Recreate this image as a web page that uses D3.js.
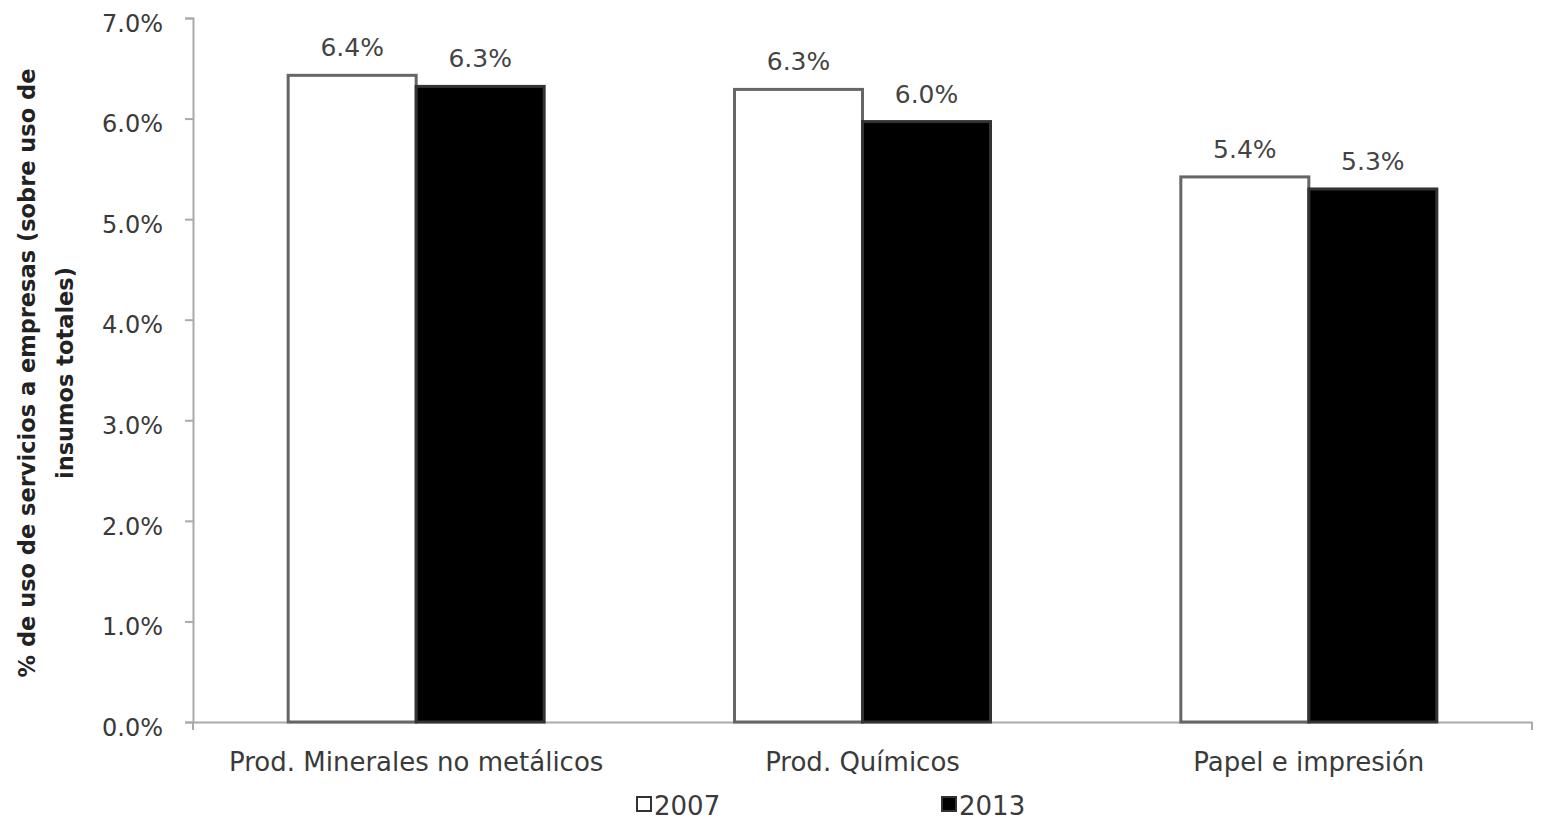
<!DOCTYPE html>
<html><head><meta charset="utf-8">
<script src="https://cdn.jsdelivr.net/npm/d3@7/dist/d3.min.js"></script>
<style>body{margin:0;background:#fff}text{font-family:"DejaVu Sans",sans-serif}</style>
</head><body><svg id="c" width="1541" height="822"></svg>
<script>
const categories = ["Prod. Minerales no metálicos", "Prod. Químicos", "Papel e impresión"];
const seriesNames = ["2007", "2013"];
const values2007 = [6.43, 6.29, 5.42];
const values2013 = [6.32, 5.97, 5.30];
const labels2007 = ["6.4%", "6.3%", "5.4%"];
const labels2013 = ["6.3%", "6.0%", "5.3%"];
const yTicks = [0, 1, 2, 3, 4, 5, 6, 7];

const svg = d3.select("#c");
const x0 = 193, x1 = 1532, yTop = 18, yBot = 722;
const x = d3.scaleBand().domain(categories).range([x0, x1]).paddingInner(0).paddingOuter(0);
const y = d3.scaleLinear().domain([0, 7]).range([yBot, yTop]);
const barW = 128;

// y axis
const ya = svg.append("g").attr("transform", `translate(${x0},0)`)
  .call(d3.axisLeft(y).tickValues(yTicks).tickSize(8).tickPadding(22).tickFormat(d => d.toFixed(1) + "%"));
ya.select(".domain").attr("stroke", "#aaa").attr("stroke-width", 2);
ya.selectAll(".tick line").attr("stroke", "#aaa").attr("stroke-width", 2);
ya.selectAll(".tick text").attr("fill", "#3a3a3a").style("font-size", "24px").attr("dy", "0.55em");

// x axis
const xa = svg.append("g").attr("transform", `translate(0,${yBot})`)
  .call(d3.axisBottom(x).tickSize(0).tickPadding(31));
xa.select(".domain").attr("stroke", "#aaa").attr("stroke-width", 2);
xa.selectAll(".tick text").attr("fill", "#3a3a3a").style("font-size", "26px");
svg.append("g").selectAll("line").data([x0, x1]).join("line")
  .attr("x1", d => d).attr("x2", d => d).attr("y1", yBot).attr("y2", yBot + 8)
  .attr("stroke", "#aaa").attr("stroke-width", 2);

const data = [];
categories.forEach((c, i) => {
  data.push({c, s: 0, v: values2007[i], lab: labels2007[i]});
  data.push({c, s: 1, v: values2013[i], lab: labels2013[i]});
});
const bx = d => x(d.c) + x.bandwidth() / 2 - barW + d.s * barW;

svg.append("g").selectAll("rect").data(data).join("rect")
  .attr("x", bx).attr("y", d => y(d.v)).attr("width", barW).attr("height", d => yBot - y(d.v))
  .attr("fill", d => d.s ? "#000" : "#fff")
  .attr("stroke", d => d.s ? "#333" : "#666").attr("stroke-width", 3);

svg.append("g").selectAll("text").data(data).join("text")
  .attr("x", d => bx(d) + barW / 2).attr("y", d => y(d.v) - 19)
  .attr("text-anchor", "middle").attr("fill", "#444").style("font-size", "25px")
  .text(d => d.lab);

// y axis title
const t = svg.append("text").attr("transform", "translate(0,373) rotate(-90)")
  .attr("text-anchor", "middle").attr("fill", "#222").style("font-size", "22.5px").style("font-weight", "bold");
t.append("tspan").attr("x", 0).attr("y", 35).text("% de uso de servicios a empresas (sobre uso de");
t.append("tspan").attr("x", 0).attr("y", 73).text("insumos totales)");

// legend
const leg = [{name: seriesNames[0], x: 637, fill: "#fff"}, {name: seriesNames[1], x: 942, fill: "#000"}];
const lg = svg.append("g").selectAll("g").data(leg).join("g").attr("transform", d => `translate(${d.x},797)`);
lg.append("rect").attr("width", 14).attr("height", 14).attr("fill", d => d.fill).attr("stroke", "#333").attr("stroke-width", 2);
lg.append("text").attr("x", 17).attr("y", 18).attr("fill", "#3a3a3a").style("font-size", "26px").text(d => d.name);
</script></body></html>
